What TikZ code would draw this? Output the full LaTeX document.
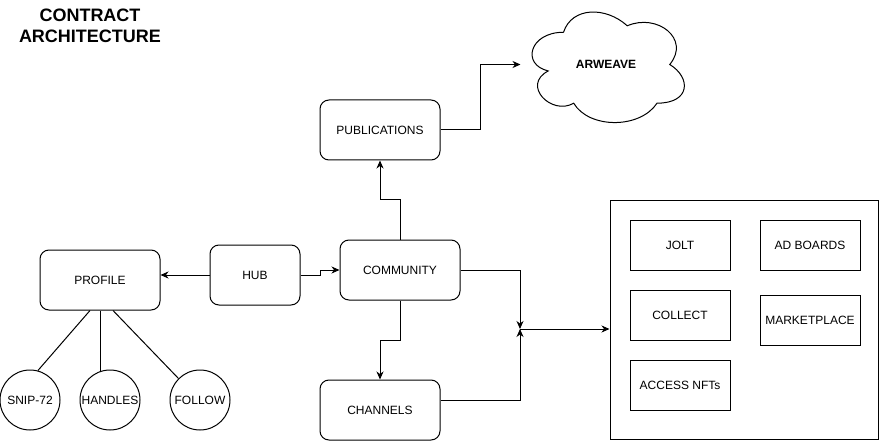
\documentclass[tikz,border=0pt]{standalone}
\usepackage{fontspec}
\setmainfont{Liberation Sans}
\usetikzlibrary{arrows.meta}

\begin{document}
\begin{tikzpicture}[x=1pt,y=-1pt,line width=1pt,
  every node/.style={font=\fontsize{12}{14}\selectfont},
  rbox/.style={draw,rounded corners=9pt,minimum width=120pt,minimum height=60pt},
  sbox/.style={draw,minimum width=100pt,minimum height=50pt},
  sub/.style={draw,circle,minimum size=60pt,inner sep=0pt},
  flow/.style={-{Stealth[length=8pt,width=7pt,inset=2.5pt]}}]
\useasboundingbox (0,0) rectangle (881,441);
\node[font=\bfseries\fontsize{18}{21}\selectfont,align=center] (title) at (90,26) {CONTRACT\\ARCHITECTURE};
\node[rbox] (profile) at (100,280) {PROFILE};
\node[rbox,minimum width=90pt] (hub) at (255,275) {HUB};
\node[rbox] (community) at (400,270) {COMMUNITY};
\node[rbox] (publications) at (380,130) {PUBLICATIONS};
\node[rbox] (channels) at (380,410) {CHANNELS};
\node[sub] (snip) at (30,400) {SNIP-72};
\node[sub] (handles) at (110,400) {HANDLES};
\node[sub] (follow) at (200,400) {FOLLOW};
\node[draw,minimum width=268pt,minimum height=239pt] (modules) at (744,319.5) {};
\node[sbox] (jolt) at (680,245) {JOLT};
\node[sbox] (adboards) at (810,245) {AD BOARDS};
\node[sbox] (collect) at (680,315) {COLLECT};
\node[sbox] (marketplace) at (810,320) {MARKETPLACE};
\node[sbox] (access) at (680,385) {ACCESS NFTs};
\begin{scope}[shift={(521,0)},x=170pt,y=-129pt]
\draw (0.25,0.25) .. controls (0.05,0.25) and (0,0.5) .. (0.16,0.55)
  .. controls (0,0.66) and (0.18,0.9) .. (0.31,0.8)
  .. controls (0.4,1) and (0.7,1) .. (0.8,0.8)
  .. controls (1,0.8) and (1,0.6) .. (0.875,0.5)
  .. controls (1,0.3) and (0.8,0.1) .. (0.625,0.2)
  .. controls (0.5,0.05) and (0.3,0.05) .. (0.25,0.25) -- cycle;
\end{scope}
\node[font=\bfseries\fontsize{12}{14}\selectfont,minimum width=170pt,minimum height=129pt] (arweave) at (606,64.5) {ARWEAVE};
\coordinate (merge) at (520,329);
\draw[flow] (hub.west) -- (hub.west -| profile.east);
\draw[flow] (hub.east) -- ++(20,0) |- (community.west);
\draw[flow] (community.north) -- ++(0,-40) -| (publications.south);
\draw[flow] (community.south) -- ++(0,40) -| (channels.north);
\draw[flow] (publications.east) -- ++(40,0) |- (arweave.west);
\draw[flow] (community.east) -| (merge);
\draw[flow] ([yshift=10pt]channels.east) -| (merge);
\draw[flow] (merge) -- (merge -| modules.west);
\draw ([xshift=-10pt]profile.south) -- (snip.75);
\draw (profile.south) -- (profile.south |- handles.110);
\draw ([xshift=13pt]profile.south) -- (follow.135);
\end{tikzpicture}
\end{document}
